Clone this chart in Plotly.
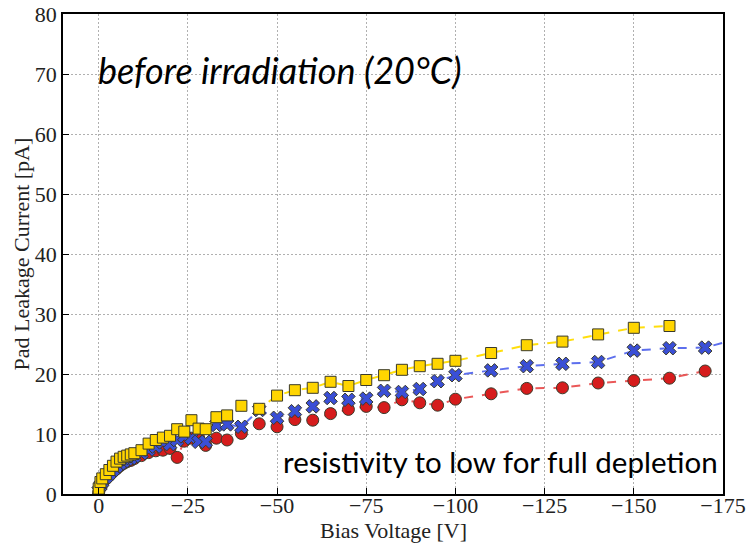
import plotly.graph_objects as go

voltage = [0, -0.5, -1, -2, -3, -4, -5, -6, -7, -8, -9, -10,
           -12, -14, -16, -18, -20, -22, -24, -26, -28, -30,
           -33, -36, -40, -45, -50,
           -55, -60, -65, -70, -75, -80, -85, -90, -95, -100,
           -110, -120, -130, -140, -150, -160, -170, -180]

yellow_vals = [0.9, 2.0, 2.6, 3.3, 4.0, 4.7, 5.4, 5.9, 6.2, 6.4, 6.6, 6.8,
               7.3, 8.4, 9.0, 9.4, 9.7, 10.8, 10.4, 12.3, 10.9, 10.8,
               12.8, 13.1, 14.7, 14.2, 16.4,
               17.3, 17.7, 18.7, 18.0, 19.0, 19.8, 20.7, 21.3, 21.7, 22.2,
               23.5, 24.8, 25.4, 26.6, 27.7, 28.0]

blue_vals = [0.5, 1.4, 2.0, 2.8, 3.4, 4.0, 4.6, 5.1, 5.5, 5.8, 6.0, 6.3,
             6.8, 7.4, 7.9, 8.6, 8.3, 9.0, 9.6, 9.3, 8.7, 8.7,
             11.5, 11.6, 11.2, 14.0, 12.7,
             13.8, 14.6, 16.0, 15.7, 15.9, 17.2, 17.0, 17.5, 18.8, 19.8,
             20.6, 21.3, 21.7, 22.0, 23.9, 24.3, 24.4, 26.0]

red_vals = [0.3, 1.1, 1.7, 2.5, 3.1, 3.7, 4.2, 4.7, 5.1, 5.4, 5.6, 5.9,
            6.4, 6.9, 7.2, 7.3, 7.6, 6.1, 8.8, 9.3, 9.4, 8.1,
            9.3, 9.0, 10.1, 11.7, 11.2,
            12.4, 12.3, 13.4, 14.1, 14.6, 14.4, 15.7, 15.2, 14.8, 15.8,
            16.7, 17.6, 17.7, 18.5, 18.9, 19.3, 20.5]

x_ticks = [0, -25, -50, -75, -100, -125, -150, -175]
x_tick_text = ["0", "\u221225", "\u221250", "\u221275", "\u2212100", "\u2212125", "\u2212150", "\u2212175"]
y_ticks = [0, 10, 20, 30, 40, 50, 60, 70, 80]

fig = go.Figure()

series = [
    (red_vals, "#d61c1c", "rgba(232,70,70,0.9)", "circle", 12),
    (blue_vals, "#3a4fd6", "rgba(75,95,235,0.9)", "x", 12),
    (yellow_vals, "#ffd500", "rgba(255,220,0,0.95)", "square", 11),
]
for vals, mcol, lcol, sym, size in series:
    fig.add_trace(go.Scatter(
        x=voltage[:len(vals)], y=vals, mode="lines+markers",
        line=dict(color=lcol, width=2, dash="dash"),
        marker=dict(symbol=sym, size=size, color=mcol,
                    line=dict(color="#3a3a2a", width=1)),
        showlegend=False,
    ))

serif = "Liberation Serif"
axis_common = dict(
    showline=True, linecolor="black", linewidth=1.5, mirror=True,
    ticks="inside", ticklen=6, tickcolor="black",
    showgrid=True, gridcolor="#b0b0b0", griddash="2px,2px", gridwidth=1,
    zeroline=False, automargin=False,
    tickfont=dict(family=serif, size=22, color="#222"),
)
fig.update_xaxes(range=[10, -175], tickvals=x_ticks, ticktext=x_tick_text,
                 ticklabelstandoff=-9, **axis_common)
fig.update_yaxes(range=[0, 80], tickvals=y_ticks, **axis_common)

fig.add_annotation(text="Bias Voltage [V]", xref="paper", yref="paper",
                   x=0.5, y=-0.077, xanchor="center", yanchor="middle", showarrow=False,
                   font=dict(family=serif, size=22, color="#222"))
fig.add_annotation(text="Pad Leakage Current [pA]", xref="paper", yref="paper",
                   x=-0.063, y=0.5, xanchor="center", yanchor="middle", showarrow=False,
                   textangle=-90, font=dict(family=serif, size=22, color="#222"))

fig.add_annotation(text="<i>before irradiation (20\u00b0C)</i>", xref="paper", yref="paper",
                   x=0.05, y=0.883, xanchor="left", yanchor="middle", showarrow=False,
                   font=dict(family="Lato", size=36, color="black"))
fig.add_annotation(text="resistivity to low for full depletion", xref="paper", yref="paper",
                   x=0.996, y=0.067, xanchor="right", yanchor="middle", showarrow=False,
                   font=dict(family="Lato", size=29.5, color="black"))

fig.update_layout(
    width=749, height=545,
    margin=dict(l=63, r=26, t=14, b=51),
    paper_bgcolor="white", plot_bgcolor="white",
)

fig.write_html("out.html", config={"displayModeBar": False},
               post_script="document.body.style.margin='0px';document.body.style.overflow='hidden';")
